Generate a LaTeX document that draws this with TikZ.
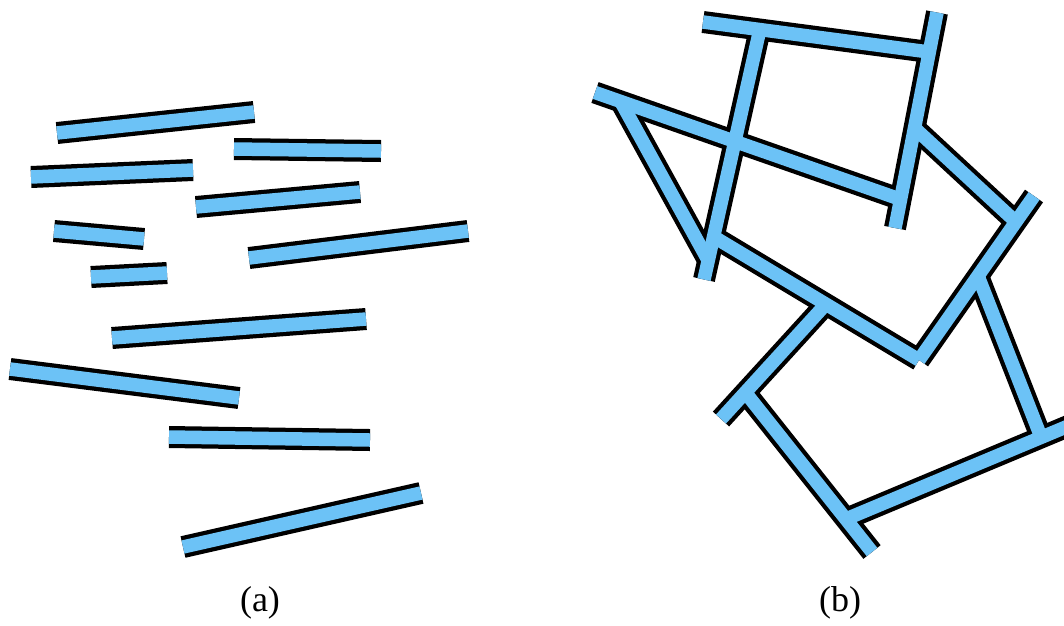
\documentclass[tikz,border=0pt]{standalone}
\usepackage{fontspec}
\setmainfont{Liberation Serif}
\definecolor{stickblue}{RGB}{108,194,246}
\begin{document}
\begin{tikzpicture}[x=1pt,y=-1pt,
  stickouter/.style={line width=22pt, black, line cap=butt},
  stickinner/.style={line width=13.5pt, stickblue, line cap=butt},
  lbl/.style={font=\fontsize{36}{42}\selectfont, anchor=base, inner sep=0pt}]
\useasboundingbox (0,0) rectangle (1064,625);
\clip (0,0) rectangle (1064,625);
% ---------- (a) loose sticks ----------
\coordinate (a1s) at (57,133);   \coordinate (a1e) at (254,112);
\coordinate (a2s) at (234,149);  \coordinate (a2e) at (381,151);
\coordinate (a3s) at (31,177);   \coordinate (a3e) at (193,170);
\coordinate (a4s) at (196,207);  \coordinate (a4e) at (360,192);
\coordinate (a5s) at (54,231);   \coordinate (a5e) at (144,239);
\coordinate (a6s) at (249,258);  \coordinate (a6e) at (468,231);
\coordinate (a7s) at (91,277);   \coordinate (a7e) at (167,273);
\coordinate (a8s) at (112,338);  \coordinate (a8e) at (366,319);
\coordinate (a9s) at (10,369);   \coordinate (a9e) at (239,398);
\coordinate (a10s) at (169,437); \coordinate (a10e) at (370,440);
\coordinate (a11s) at (183,547); \coordinate (a11e) at (421,493);
\foreach \s/\e in {a1s/a1e,a2s/a2e,a3s/a3e,a4s/a4e,a5s/a5e,a6s/a6e,a7s/a7e,a8s/a8e,a9s/a9e,a10s/a10e,a11s/a11e}{
  \draw[stickouter] (\s) -- (\e);
  \draw[stickinner] (\s) -- (\e);
}
% ---------- (b) connected network ----------
\coordinate (As) at (703,22);    \coordinate (Ae) at (929,52);
\coordinate (Bs) at (937,12.5);  \coordinate (Be) at (895,228);
\coordinate (Cs) at (595,92.5);  \coordinate (Ce) at (901,199.5);
\coordinate (Ds) at (760,29);    \coordinate (De) at (704,279.5);
\coordinate (Fs) at (621,102);   \coordinate (Fe) at (708,260);
\coordinate (Es) at (714,237);   \coordinate (V) at (919,360);
\coordinate (Gs) at (1034,196);
\coordinate (Hs) at (914.5,128); \coordinate (He) at (1016,222);
\coordinate (Is) at (978,276);   \coordinate (Ie) at (1041,437);
\coordinate (Js) at (826,304);   \coordinate (Je) at (721,419);
\coordinate (Ks) at (745,392);   \coordinate (Ke) at (872,552);
\coordinate (Ls) at (846,519);   \coordinate (Le) at (1085,419);
\foreach \s/\e in {As/Ae,Bs/Be,Cs/Ce,Ds/De,Fs/Fe,Es/V,Gs/V,Hs/He,Is/Ie,Js/Je,Ks/Ke,Ls/Le}{
  \draw[stickouter] (\s) -- (\e);
}
\foreach \s/\e in {As/Ae,Bs/Be,Cs/Ce,Ds/De,Fs/Fe,Es/V,Gs/V,Hs/He,Is/Ie,Js/Je,Ks/Ke,Ls/Le}{
  \draw[stickinner] (\s) -- (\e);
}
% ---------- labels ----------
\node[lbl] (la) at (260,611) {(a)};
\node[lbl] (lb) at (840,611) {(b)};
\end{tikzpicture}
\end{document}
